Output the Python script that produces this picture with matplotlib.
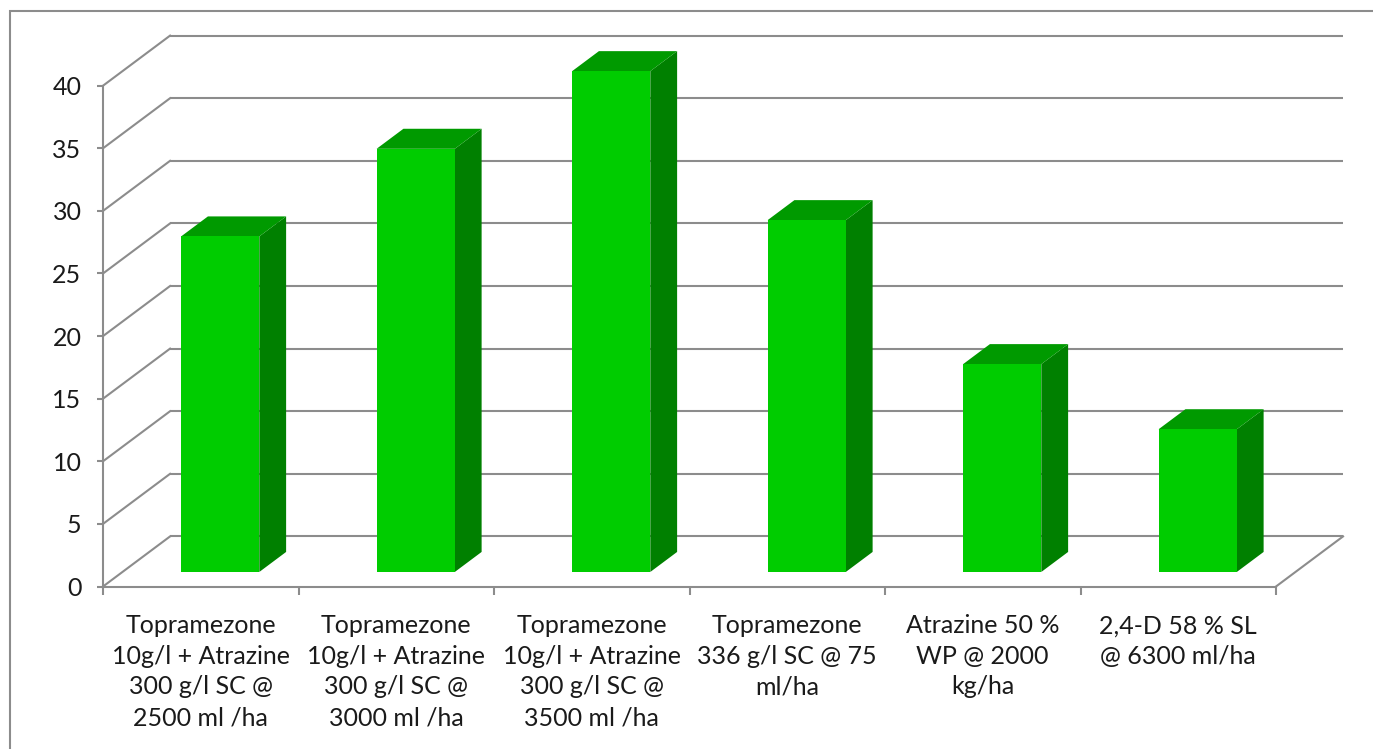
import matplotlib
matplotlib.use("Agg")
import matplotlib.pyplot as plt
from matplotlib.patches import Polygon, Rectangle

# data
categories = [
    "Topramezone\n10g/l + Atrazine\n300 g/l SC @\n2500 ml /ha",
    "Topramezone\n10g/l + Atrazine\n300 g/l SC @\n3000 ml /ha",
    "Topramezone\n10g/l + Atrazine\n300 g/l SC @\n3500 ml /ha",
    "Topramezone\n336 g/l SC @ 75\nml/ha",
    "Atrazine 50 %\nWP @ 2000\nkg/ha",
    "2,4-D 58 % SL\n@ 6300 ml/ha",
]
values = [26.8, 33.8, 40.0, 28.1, 16.6, 11.4]
yticks = [0, 5, 10, 15, 20, 25, 30, 35, 40]

plt.rcParams['font.family'] = ['Lato', 'DejaVu Sans']

W, H = 1373, 749
fig = plt.figure(figsize=(W / 100, H / 100), dpi=100)

# fake 3D: depth offset of the back wall, in data units
DX, DY = 0.343, 4.0
px_x, px_y = 195.5, 12.52          # pixels per data unit
n = len(values)
left_px, bottom_px = 103, 586.5
ax = fig.add_axes([left_px / W, (H - bottom_px) / H,
                   (n + DX) * px_x / W, (40 + DY) * px_y / H])
ax.set_xlim(0, n + DX)
ax.set_ylim(0, 40 + DY)
ax.patch.set_visible(False)

grid_c = '#8c8c8c'
lw = 1.5

# back wall gridlines + side wall diagonals
for v in yticks:
    ax.plot([DX, n + DX], [v + DY, v + DY], color=grid_c, lw=lw, zorder=1,
            clip_on=False, solid_capstyle='butt')
    ax.plot([0, DX], [v, v + DY], color=grid_c, lw=lw, zorder=1, clip_on=False)
# right edge of the floor
ax.plot([n, n + DX], [0, DY], color=grid_c, lw=lw, zorder=1, clip_on=False)

# bars
f0, f1 = 0.29, 0.69
bw0, bw1 = 0.3, 0.7
front_c, top_c, side_c = '#00cc00', '#009a00', '#008000'
for i, v in enumerate(values):
    x0 = i + bw0 + f0 * DX
    x1 = i + bw1 + f0 * DX
    y0 = f0 * DY
    sx, sy = (f1 - f0) * DX, (f1 - f0) * DY
    front = [(x0, y0), (x1, y0), (x1, y0 + v), (x0, y0 + v)]
    top = [(x0, y0 + v), (x1, y0 + v), (x1 + sx, y0 + v + sy), (x0 + sx, y0 + v + sy)]
    side = [(x1, y0), (x1 + sx, y0 + sy), (x1 + sx, y0 + v + sy), (x1, y0 + v)]
    ax.add_patch(Polygon(side, closed=True, fc=side_c, ec='none', zorder=3))
    ax.add_patch(Polygon(top, closed=True, fc=top_c, ec='none', zorder=3))
    ax.add_patch(Polygon(front, closed=True, fc=front_c, ec='none', zorder=4))

# axes: spines
for s in ['top', 'right']:
    ax.spines[s].set_visible(False)
ax.spines['left'].set_bounds(0, 40)
ax.spines['bottom'].set_bounds(0, n)
for s in ['left', 'bottom']:
    ax.spines[s].set_color(grid_c)
    ax.spines[s].set_linewidth(lw)
    ax.spines[s].set_zorder(2)

ax.set_yticks(yticks)
ax.set_yticklabels([str(t) for t in yticks])
ax.tick_params(axis='y', direction='out', length=4.5, width=lw, color=grid_c,
               labelsize=18, labelcolor='#1a1a1a', pad=11)

ax.set_xticks([i + 0.5 for i in range(n)])
ax.set_xticklabels(categories, linespacing=1.4)
ax.set_xticks(range(n + 1), minor=True)
ax.tick_params(axis='x', which='major', length=0, labelsize=18,
               labelcolor='#1a1a1a', pad=20)
ax.tick_params(axis='x', which='minor', direction='out', length=6, width=lw,
               color=grid_c)

# outer chart border
fig.patches.append(Rectangle((10 / W, -0.1), 1.2, (H - 11) / H + 0.1,
                             transform=fig.transFigure, fill=False,
                             ec='#8c8c8c', lw=1.5))

fig.savefig('out.png', dpi=100)
